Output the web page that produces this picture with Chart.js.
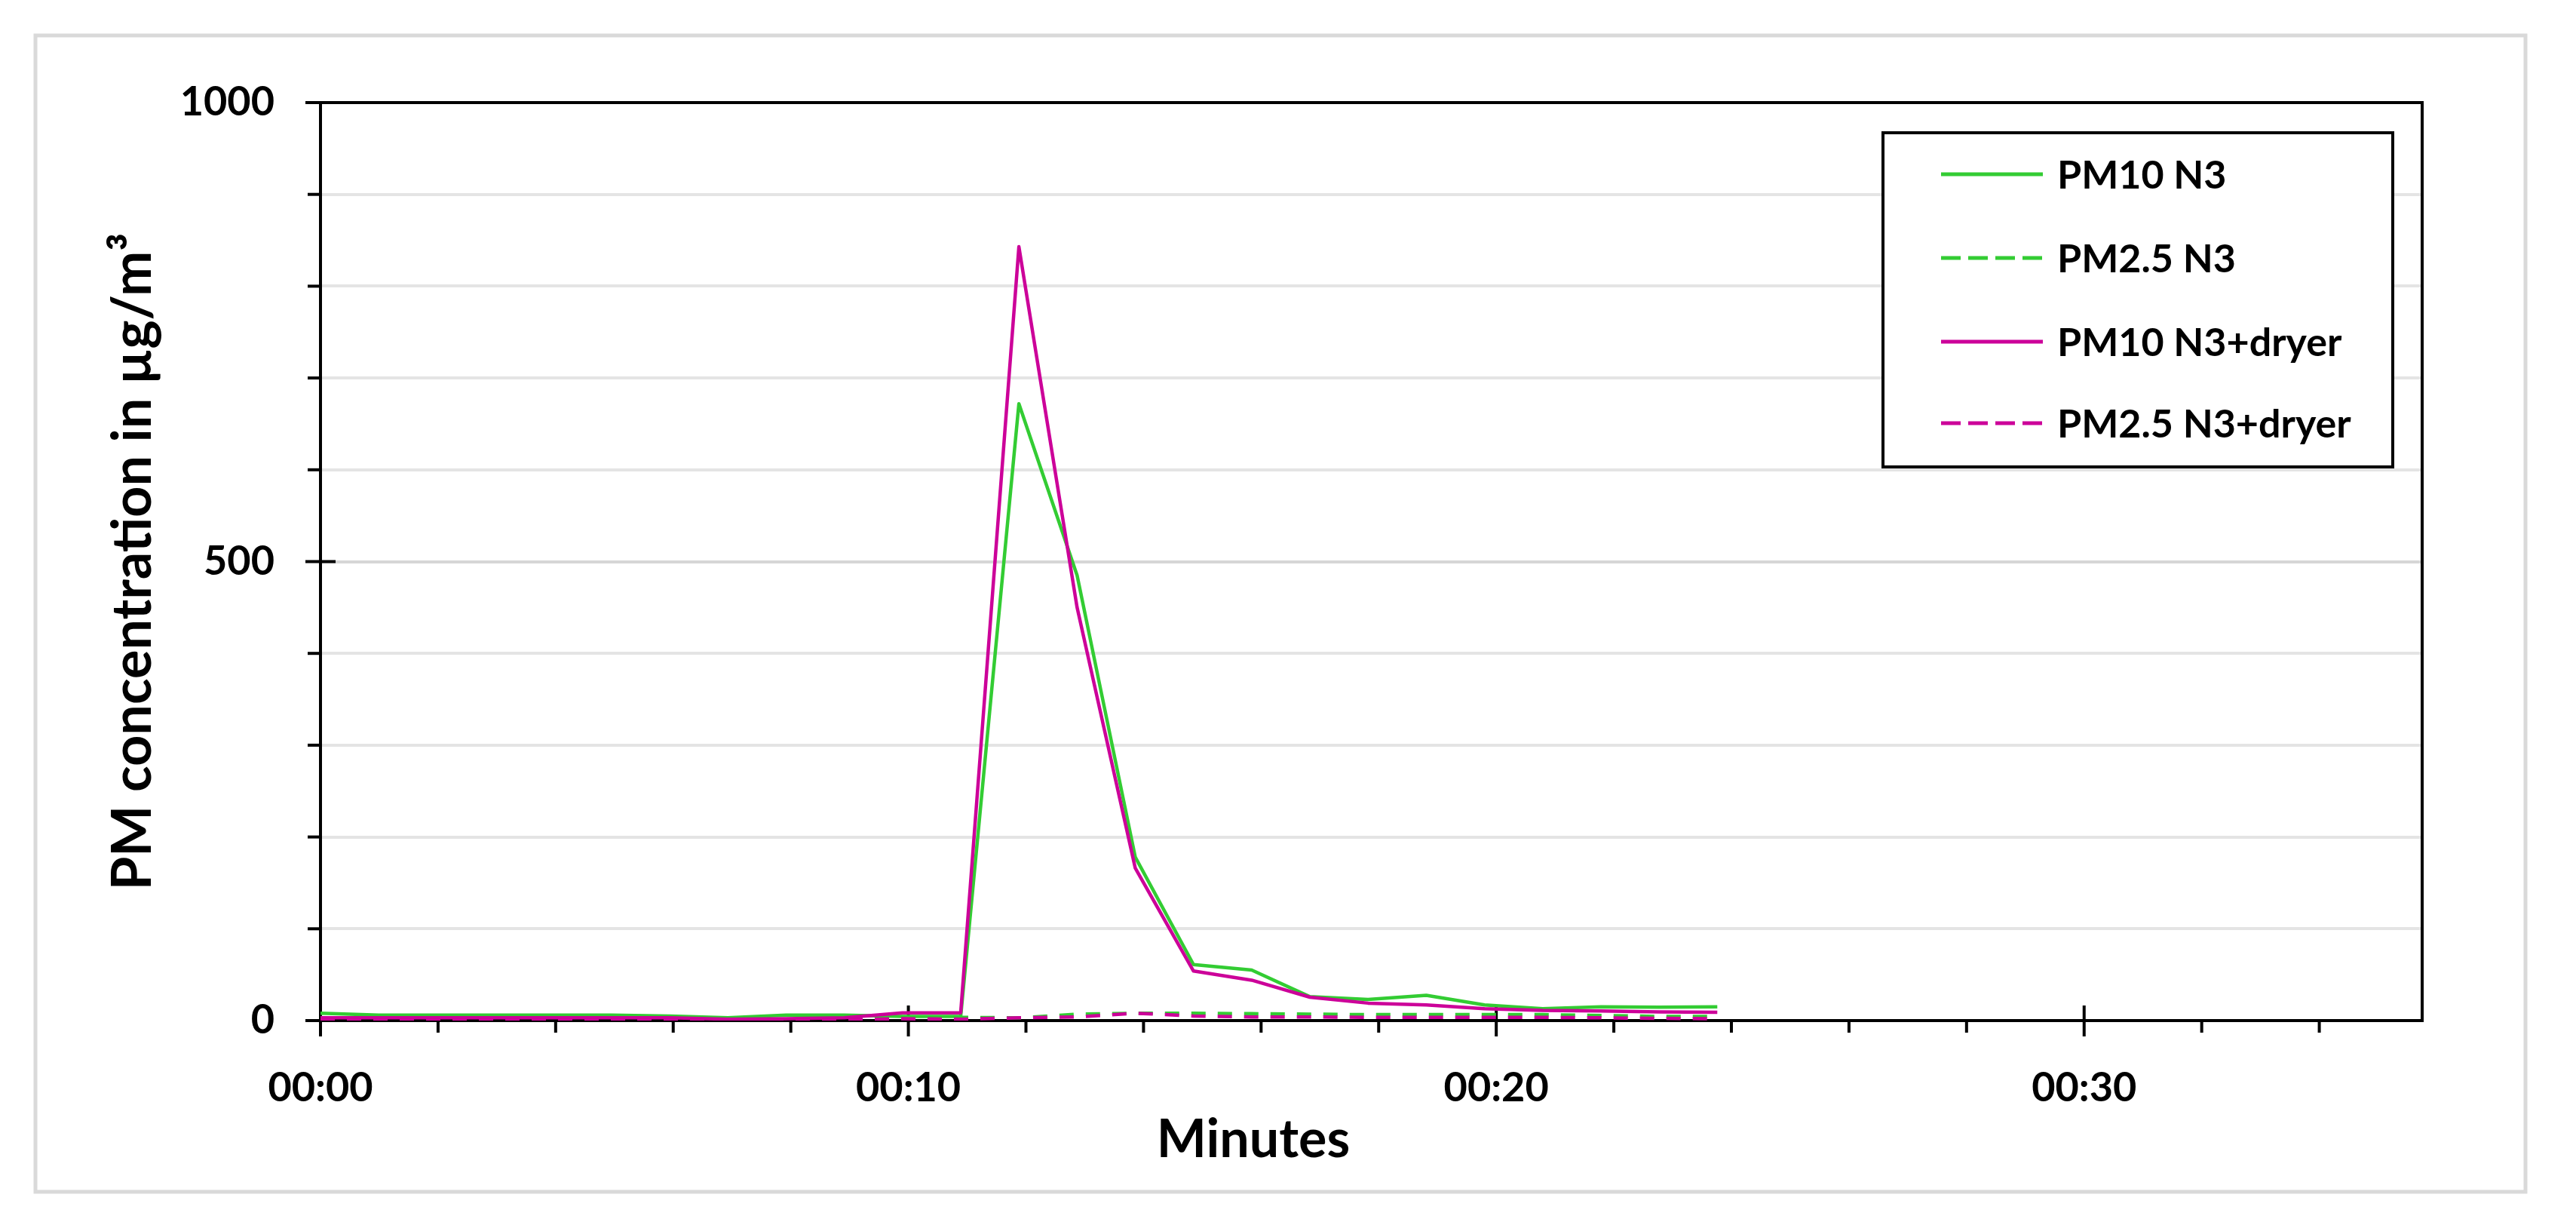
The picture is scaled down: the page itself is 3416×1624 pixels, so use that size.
<!DOCTYPE html>
<html><head><meta charset="utf-8">
<script src="https://cdn.jsdelivr.net/npm/chart.js@4.4.1/dist/chart.umd.min.js"></script>
<style>html,body{margin:0;padding:0;background:#fff;}canvas{display:block;}</style>
</head><body>
<canvas id="c" width="3416" height="1624" style="width:3416px;height:1624px"></canvas>
<script>
// ---- data ----
const minutes   = [0, 0.99, 1.98, 2.97, 3.96, 4.95, 5.94, 6.93, 7.92, 8.91, 9.90, 10.89, 11.88, 12.87, 13.86, 14.85, 15.84, 16.83, 17.82, 18.81, 19.80, 20.79, 21.78, 22.77, 23.76];
const pm10N3    = [8, 6, 6, 6, 6, 6, 5, 3, 6, 6, 4.5, 4.5, 672, 485, 178, 61, 55, 26, 23, 27.5, 17, 13, 15, 14.5, 15];
const pm25N3    = [2, 2, 2, 2, 2, 2, 2, 1, 1, 2, 3.5, 3.5, 3, 7, 8, 8, 7.5, 7, 6.5, 6.5, 6.5, 6.5, 5.5, 4.5, 4.5];
const pm10Dryer = [3, 3, 3, 3, 3, 3, 3, 1.5, 2, 3, 8.5, 8.5, 843, 450, 166, 54, 44, 25.5, 19, 17, 13, 11, 10.5, 9.5, 9];
const pm25Dryer = [1.5, 1.5, 1.5, 1.5, 1.5, 1.5, 1.5, 0.5, 0.5, 1, 2, 1.5, 3, 4, 8, 5, 4, 4, 3.5, 3.5, 3.5, 3.5, 3, 2.5, 2];
const seriesLabels = ['PM10 N3', 'PM2.5 N3', 'PM10 N3+dryer', 'PM2.5 N3+dryer'];
const yTickLabels = {0: '0', 500: '500', 1000: '1000'};
const xTickLabels = {0: '00:00', 10: '00:10', 20: '00:20', 30: '00:30'};
const xTitle = 'Minutes';
const yTitle = 'PM concentration in µg/m³';

// ---- styles ----
const GREEN = '#33cc33', MAGENTA = '#cc0099';
const PLOT_DASH = [19, 16], LEGEND_DASH = [26, 10];
const FONT = 'Lato';

function pts(vals) { return vals.map((v, i) => ({x: minutes[i], y: v})); }

const decor = {
  id: 'decor',
  beforeDraw(chart) {
    const ctx = chart.ctx;
    ctx.save();
    ctx.fillStyle = '#fff';
    ctx.fillRect(0, 0, chart.width, chart.height);
    ctx.strokeStyle = '#d9d9d9';
    ctx.lineWidth = 5;
    ctx.strokeRect(47, 47, 3302, 1533);
    ctx.restore();
  },
  beforeDatasetsDraw(chart) {
    const {ctx, chartArea: a, scales: {x, y}} = chart;
    ctx.save();
    ctx.strokeStyle = '#000';
    ctx.lineWidth = 4;
    ctx.lineCap = 'butt';
    ctx.strokeRect(a.left, a.top, a.right - a.left, a.bottom - a.top);
    y.ticks.forEach(t => {
      const py = y.getPixelForValue(t.value);
      const major = (t.value in yTickLabels);
      ctx.beginPath();
      ctx.moveTo(a.left - (major ? 20 : 17), py);
      ctx.lineTo(a.left + (major ? 20 : 0), py);
      ctx.stroke();
    });
    x.ticks.forEach(t => {
      const px = x.getPixelForValue(t.value);
      const major = (t.value in xTickLabels);
      ctx.beginPath();
      ctx.moveTo(px, a.bottom - (major ? 20 : 0));
      ctx.lineTo(px, a.bottom + (major ? 21 : 16));
      ctx.stroke();
    });
    ctx.restore();
  },
  afterDraw(chart) {
    const ctx = chart.ctx;
    ctx.save();
    // x-axis title
    ctx.fillStyle = '#000';
    ctx.font = 'bold 70px ' + FONT;
    ctx.textAlign = 'center';
    ctx.textBaseline = 'alphabetic';
    ctx.fillText(xTitle, 1662, 1534);
    // legend
    const bx = 2497, by = 176, bw = 676, bh = 443;
    ctx.fillStyle = '#fff';
    ctx.fillRect(bx, by, bw, bh);
    ctx.strokeStyle = '#000';
    ctx.lineWidth = 4;
    ctx.strokeRect(bx, by, bw, bh);
    const rows = [231, 342, 453, 561];
    chart.data.datasets.forEach((ds, i) => {
      const ry = rows[i];
      ctx.strokeStyle = ds.borderColor;
      ctx.lineWidth = 5;
      ctx.setLineDash(ds.borderDash && ds.borderDash.length ? LEGEND_DASH : []);
      ctx.beginPath();
      ctx.moveTo(2574, ry);
      ctx.lineTo(2709, ry);
      ctx.stroke();
      ctx.setLineDash([]);
      ctx.fillStyle = '#000';
      ctx.font = 'bold 52px ' + FONT;
      ctx.textAlign = 'left';
      ctx.textBaseline = 'middle';
      ctx.fillText(ds.label, 2728, ry + 2);
    });
    ctx.restore();
  }
};

const ds = (label, data, color, dashed, order) => ({
  label, data: pts(data), borderColor: color, backgroundColor: color,
  borderWidth: 4.5, borderDash: dashed ? PLOT_DASH : [], pointRadius: 0,
  tension: 0, fill: false, order, borderJoinStyle: 'round'
});

new Chart(document.getElementById('c'), {
  type: 'line',
  data: {
    datasets: [
      ds(seriesLabels[0], pm10N3, GREEN, false, 3),
      ds(seriesLabels[1], pm25N3, GREEN, true, 2),
      ds(seriesLabels[2], pm10Dryer, MAGENTA, false, 1),
      ds(seriesLabels[3], pm25Dryer, MAGENTA, true, 0)
    ]
  },
  options: {
    responsive: false,
    devicePixelRatio: 1,
    animation: false,
    layout: {padding: {left: 0, top: 136, right: 204, bottom: 0}},
    plugins: {legend: {display: false}, tooltip: {enabled: false}, title: {display: false}},
    scales: {
      x: {
        type: 'linear', min: 0, max: 35.75,
        grid: {display: false, drawTicks: false},
        border: {display: false},
        ticks: {
          stepSize: 2, autoSkip: false, includeBounds: false, maxRotation: 0, minRotation: 0,
          padding: 57, color: '#000', font: {family: FONT, size: 54, weight: 'bold'},
          callback: v => (v in xTickLabels) ? xTickLabels[v] : ''
        },
        afterFit: s => { s.height = 271; }
      },
      y: {
        type: 'linear', min: 0, max: 1000,
        grid: {
          drawTicks: false, lineWidth: 4,
          color: c => (c.tick && c.tick.value === 500) ? '#d6d6d6' : '#e4e4e4'
        },
        border: {display: false},
        ticks: {
          stepSize: 100, autoSkip: false, padding: 61, color: '#000',
          font: {family: FONT, size: 54, weight: 'bold'},
          callback: v => (v in yTickLabels) ? yTickLabels[v] : ''
        },
        title: {
          display: true, text: yTitle, color: '#000',
          font: {family: FONT, size: 72, weight: 'bold'},
          padding: {top: 134, bottom: 0}
        },
        afterFit: s => { s.width = 425; }
      }
    }
  },
  plugins: [decor]
});
</script>
</body></html>
